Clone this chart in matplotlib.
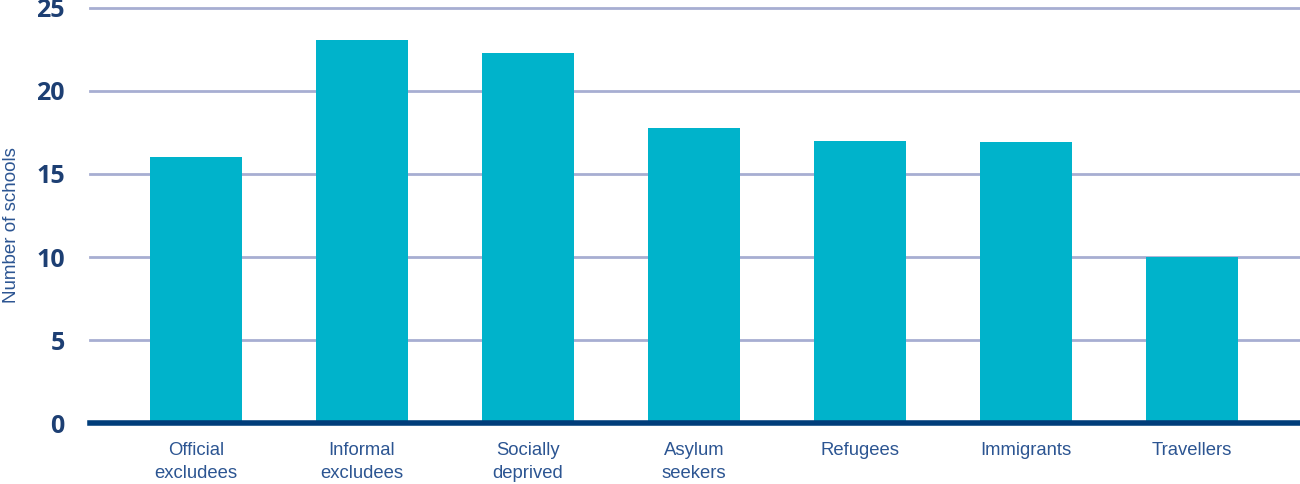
import matplotlib.pyplot as plt
import numpy as np

categorias = ["Official\nexcludees", "Informal\nexcludees", "Socially\ndeprived",
              "Asylum\nseekers", "Refugees", "Immigrants", "Travellers"]
escuelas = [16.0, 23.1, 22.3, 17.8, 17.0, 16.9, 10.0]
ticks_y = [0, 5, 10, 15, 20, 25]

plt.rcParams['font.family'] = ['Liberation Sans', 'DejaVu Sans']

fig = plt.figure(figsize=(13, 4.84), dpi=100)
ax = fig.add_axes([0.069, 0.126, 0.931, 0.8575])

x = np.arange(len(categorias))
ax.bar(x, escuelas, width=0.55, color='#00b3cb', zorder=2)

# lineas de la grilla (la de arriba queda en el borde)
for t in ticks_y[1:]:
    ax.axhline(t, color='#a7aed2', linewidth=2, zorder=1, clip_on=False)
ax.axhline(0, color='#003d7a', linewidth=4, zorder=3, clip_on=False)

ax.set_xlim(-0.64, 6.65)
ax.set_ylim(0, 25)
ax.set_yticks(ticks_y)
ax.set_yticklabels([str(t) for t in ticks_y], fontsize=18, fontweight='bold', color='#1d3f73',
                   family=['Open Sans', 'DejaVu Sans'])
ax.set_xticks(x)
ax.set_xticklabels(categorias, fontsize=13.3, color='#2c5592', linespacing=1.4)
ax.tick_params(axis='y', length=0, pad=18)
ax.tick_params(axis='x', length=0, pad=14)
for s in ax.spines.values():
    s.set_visible(False)

fig.text(0.009, 0.535, 'Number of schools', rotation=90, va='center', ha='center',
         fontsize=13.5, color='#2c5592')

fig.savefig('out.png', dpi=100)
